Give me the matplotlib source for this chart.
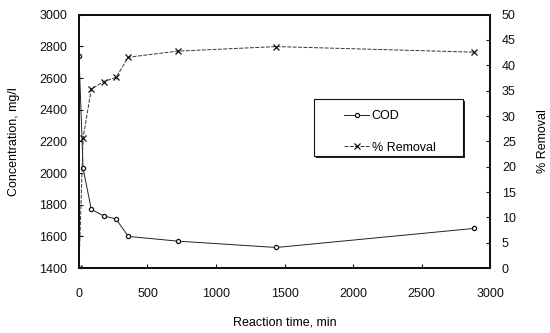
import matplotlib
matplotlib.use('Agg')
import matplotlib.pyplot as plt
from matplotlib.patches import Rectangle

# data
time_min = [0, 30, 90, 180, 270, 360, 720, 1440, 2880]
cod = [2740, 2030, 1770, 1730, 1710, 1600, 1570, 1530, 1650]
removal = [0, 25.7, 35.3, 36.8, 37.6, 41.6, 42.8, 43.7, 42.6]

plt.rcParams['font.family'] = ['Liberation Sans', 'DejaVu Sans']
plt.rcParams['font.size'] = 9

W, H = 550, 333
fig = plt.figure(figsize=(5.5, 3.33), dpi=100)
ax = fig.add_axes([0.1436, 0.195, 0.891 - 0.1436, 0.956 - 0.195])
ax2 = ax.twinx()

l1, = ax.plot(time_min, cod, color='#222222', lw=0.7, marker='o', ms=3,
              mfc='white', mec='#111111', mew=0.9, label='COD')
l2, = ax2.plot(time_min, removal, color='#333333', lw=0.7, ls=(0, (4, 1.5)),
               marker='x', ms=4.5, mec='#111111', mew=0.9, label='% Removal')

ax.set_xlim(0, 3000)
ax.set_ylim(1400, 3000)
ax2.set_ylim(0, 50)
ax.set_xticks(range(0, 3001, 500))
ax.set_yticks(range(1400, 3001, 200))
ax2.set_yticks(range(0, 51, 5))

for a in (ax, ax2):
    for s in a.spines.values():
        s.set_linewidth(1.4)
        s.set_color('#111111')
    a.tick_params(direction='in', length=3, width=0.8, pad=8.5, colors='#111111')
ax.tick_params(axis='x', pad=14.5)

ax.set_xlabel('Reaction time, min', labelpad=12)
ax.set_ylabel('Concentration, mg/l', labelpad=14)
ax2.set_ylabel('% Removal', labelpad=15)

# legend box with a drop shadow, drawn in figure pixels
x0, y0, x1, y1 = 314, 99, 463, 156
fig.patches.append(Rectangle(((x0 + 2) / W, 1 - (y1 + 2) / H), (x1 - x0) / W, (y1 - y0) / H,
                             transform=fig.transFigure, facecolor='#222222', edgecolor='none', zorder=5))
fig.patches.append(Rectangle((x0 / W, 1 - y1 / H), (x1 - x0) / W, (y1 - y0) / H,
                             transform=fig.transFigure, facecolor='white', edgecolor='#111111',
                             lw=0.8, zorder=6))

leg = fig.legend(handles=[l1, l2], loc='upper left', bbox_to_anchor=(338 / W, 1 - 104 / H),
                 frameon=False, borderpad=0, handlelength=2.0, handletextpad=0.2,
                 labelspacing=1.55, fontsize=9)
leg.set_zorder(7)

fig.savefig('out.png', dpi=100)
